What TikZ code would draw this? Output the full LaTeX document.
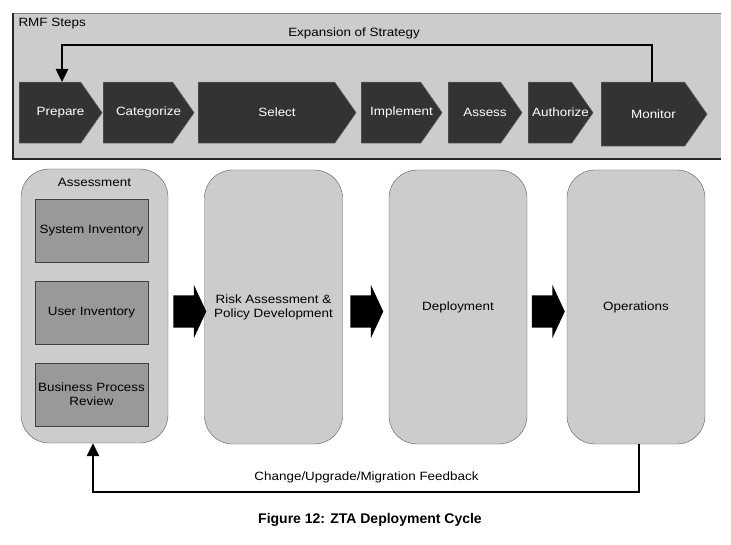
\documentclass[tikz,border=0pt]{standalone}
\usepackage{fontspec}
\setmainfont[FakeStretch=1.12]{Liberation Sans}
\newfontfamily\capfont{Liberation Sans}
\usetikzlibrary{shapes.symbols,shapes.arrows,arrows.meta}

\begin{document}
\begin{tikzpicture}[x=1pt,y=-1pt,
        chev/.style={signal, signal to=east, signal pointer angle=110,
                        fill=black!80, draw=black!55, anchor=north west,
                        minimum height=61pt, inner sep=0pt},
        chevtext/.style={text=white, xshift=10.5pt, font=\fontsize{12}{14}\selectfont},
        stage/.style={rectangle, rounded corners=28pt, fill=black!20, draw=black!65,
                        minimum width=138pt, minimum height=274pt, align=center,
                        font=\fontsize{12}{14}\selectfont},
        inv/.style={rectangle, fill=black!40, draw=black!75, minimum width=113pt,
                        minimum height=63pt, align=center,
                        font=\fontsize{12}{14}\selectfont},
        fat/.style={single arrow, fill=black, minimum height=33pt, inner xsep=0pt,
                        inner ysep=16pt, single arrow head extend=10.5pt,
                        single arrow tip angle=130},
        loop/.style={line width=2.5pt, -{Triangle[width=12pt,length=13pt]}},
        lbl/.style={font=\fontsize{12}{14}\selectfont}]
    \useasboundingbox (0,0) rectangle (731,545);
    % RMF steps panel
    \fill[black!20] (13,13) rectangle (721,159);
    \draw[black!50] (13,13) -- (721,13);
    \draw[black!85, line width=1.2pt] (13,13) -- (13,159) -- (721,159);
    \node[anchor=west, lbl] (rmf) at (15,24) {RMF Steps};
    \node[lbl] (expand) at (354,33) {Expansion of Strategy};
    \node[chev, minimum width=83pt, label={[chevtext]center:Prepare}] (prep) at (19,82) {};
    \node[chev, minimum width=91pt, label={[chevtext]center:Categorize}] (cat) at (103,82) {};
    \node[chev, minimum width=158pt, label={[chevtext]center:Select}] (sel) at (198,82) {};
    \node[chev, minimum width=81pt, label={[chevtext]center:Implement}] (impl) at (361,82) {};
    \node[chev, minimum width=74pt, label={[chevtext]center:Assess}] (ass) at (448,82) {};
    \node[chev, minimum width=65pt, label={[chevtext]center:Authorize}] (auth) at (528,82) {};
    \node[chev, minimum width=106pt, minimum height=64pt,
        label={[chevtext]center:Monitor}] (mon) at (601,82) {};
    \coordinate (top) at (0,45);
    \draw[loop] (mon.north -| 652,0) |- (top -| 62,0) -- (prep.north -| 62,0);

    % deployment cycle
    \node[stage, minimum width=147pt] (assessbox) at (94.5,306) {};
    \node[lbl] (assesslbl) at (94.5,182) {Assessment};
    \node[inv] (sysinv) at (91.5,230.5) {System Inventory};
    \node[inv] (userinv) at (91.5,312.5) {User Inventory};
    \node[inv] (bpr) at (91.5,394.5) {Business Process\\Review};
    \node[stage] (risk) at (273.5,307) {Risk Assessment \&\\Policy Development};
    \node[stage] (deploy) at (458,307) {Deployment};
    \node[stage] (ops) at (636,307) {Operations};
    \node[fat] (ar1) at (186,311.5) {};
    \node[fat] (ar2) at (363,311.5) {};
    \node[fat] (ar3) at (544.5,311.5) {};
    \coordinate (bottom) at (0,492);
    \draw[loop] (ops.south -| 639,0) |- (bottom -| 93,0) -- (assessbox.south -| 93,0);
    \node[lbl] (feedback) at (366.5,477) {Change/Upgrade/Migration Feedback};
    \node[font=\capfont\fontsize{14}{16}\selectfont\bfseries] (caption) at (370,520)
        {Figure 12: ZTA Deployment Cycle};
\end{tikzpicture}
\end{document}
